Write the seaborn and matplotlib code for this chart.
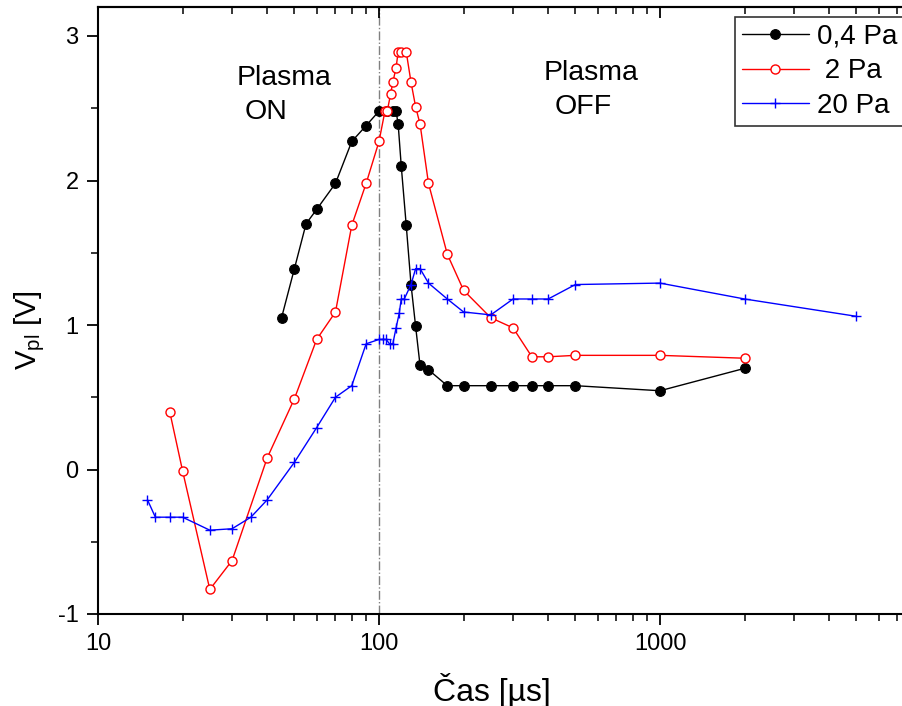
import numpy as np
import pandas as pd
import matplotlib
matplotlib.use("Agg")
import matplotlib.pyplot as plt
from matplotlib.ticker import MultipleLocator, LogLocator, NullFormatter, FixedLocator, FixedFormatter
import seaborn as sns

sns.set_theme(style="white")
plt.rcParams["font.family"] = ["Liberation Sans", "DejaVu Sans"]
plt.rcParams["mathtext.default"] = "regular"
plt.rcParams["axes.unicode_minus"] = False
plt.rcParams["text.color"] = "black"
plt.rcParams["axes.labelcolor"] = "black"
plt.rcParams["xtick.color"] = "black"
plt.rcParams["ytick.color"] = "black"

# 0,4 Pa
t_04 = [45, 50, 55, 60, 70, 80, 90, 100, 107, 112, 115, 117, 120, 125, 130, 135,
        140, 150, 175, 200, 250, 300, 350, 400, 500, 1000, 2000]
v_04 = [1.05, 1.39, 1.70, 1.80, 1.98, 2.27, 2.38, 2.48, 2.48, 2.48, 2.48, 2.39, 2.10,
        1.69, 1.28, 0.99, 0.72, 0.69, 0.58, 0.58, 0.58, 0.58, 0.58, 0.58, 0.58, 0.545, 0.70]

# 2 Pa
t_2 = [18, 20, 25, 30, 40, 50, 60, 70, 80, 90, 100, 105, 107, 110, 112, 115, 117, 120,
       125, 130, 135, 140, 150, 175, 200, 250, 300, 350, 400, 500, 1000, 2000]
v_2 = [0.40, -0.01, -0.83, -0.63, 0.08, 0.49, 0.90, 1.09, 1.69, 1.98, 2.27, 2.48, 2.48,
       2.60, 2.68, 2.78, 2.89, 2.89, 2.89, 2.68, 2.51, 2.39, 1.98, 1.49, 1.24, 1.05,
       0.98, 0.78, 0.78, 0.79, 0.79, 0.77]

# 20 Pa
t_20 = [15, 16, 18, 20, 25, 30, 35, 40, 50, 60, 70, 80, 90, 100, 103, 106, 109, 112,
        115, 118, 120, 123, 130, 135, 140, 150, 175, 200, 250, 300, 350, 400, 500,
        1000, 2000, 5000]
v_20 = [-0.21, -0.33, -0.33, -0.33, -0.42, -0.41, -0.33, -0.21, 0.05, 0.29, 0.50, 0.58,
        0.87, 0.90, 0.90, 0.90, 0.87, 0.87, 0.98, 1.08, 1.18, 1.18, 1.28, 1.39, 1.39,
        1.29, 1.18, 1.09, 1.07, 1.18, 1.18, 1.18, 1.28, 1.29, 1.18, 1.06]

labels = ["0,4 Pa", " 2 Pa", "20 Pa"]
x_ticks = [10, 100, 1000]
x_tick_labels = ["10", "100", "1000"]
y_ticks = [-1, 0, 1, 2, 3]

W, H = 902, 706
fig = plt.figure(figsize=(W / 100, H / 100), dpi=100)
# axes box in pixels: left 98, top 7, bottom 614; right edge runs past the canvas
left, top, bottom = 98, 7, 614
right = 98 + 3 * 281
ax = fig.add_axes([left / W, (H - bottom) / H, (right - left) / W, (bottom - top) / H])

styles = [
    dict(color="black", marker="o", markersize=7, markerfacecolor="black",
         markeredgecolor="black", markeredgewidth=0.8),
    dict(color="red", marker="o", markersize=6.5, markerfacecolor="white",
         markeredgecolor="red", markeredgewidth=1.0),
    dict(color="blue", marker="+", markersize=7, markeredgecolor="blue",
         markeredgewidth=1.0),
]
for (tx, vy), lab, st in zip([(t_04, v_04), (t_2, v_2), (t_20, v_20)], labels, styles):
    df = pd.DataFrame({"t": tx, "v": vy})
    sns.lineplot(data=df, x="t", y="v", ax=ax, estimator=None, sort=False,
                 linewidth=1.0, label=lab, **st)

ax.axvline(100, color="gray", linestyle="-.", linewidth=1.0, zorder=0)

ax.set_xscale("log")
ax.set_xlim(10, 10000)
ax.set_ylim(-1, 3 + 29 / 144.5)

ax.xaxis.set_major_locator(FixedLocator(x_ticks))
ax.xaxis.set_major_formatter(FixedFormatter(x_tick_labels))
ax.xaxis.set_minor_locator(LogLocator(base=10, subs=np.arange(2, 10)))
ax.xaxis.set_minor_formatter(NullFormatter())
ax.yaxis.set_major_locator(FixedLocator(y_ticks))
ax.yaxis.set_minor_locator(MultipleLocator(0.5))

ax.tick_params(axis="both", which="major", direction="out", length=8, width=1.3,
               labelsize=17, colors="black", pad=6)
ax.tick_params(axis="both", which="minor", direction="out", length=5, width=1.1)
ax.tick_params(axis="x", which="both", top=False, bottom=True)
ax.tick_params(axis="y", which="both", left=True, right=False)

# mirrored ticks on the top frame pointing inwards
top_ax = ax.secondary_xaxis("top")
top_ax.xaxis.set_major_locator(FixedLocator(x_ticks))
top_ax.xaxis.set_minor_locator(LogLocator(base=10, subs=np.arange(2, 10)))
top_ax.xaxis.set_minor_formatter(NullFormatter())
top_ax.tick_params(which="major", direction="in", length=8, width=1.3, labeltop=False)
top_ax.tick_params(which="minor", direction="in", length=5, width=1.1)
top_ax.spines["top"].set_linewidth(1.5)

for s in ax.spines.values():
    s.set_color("black")
    s.set_linewidth(1.5)

ax.set_xlabel("")
ax.set_ylabel("")
fig.text(492 / W, 1 - 690 / H, "Čas [µs]", ha="center", va="center", fontsize=23)
fig.text(30 / W, 1 - 330 / H, "$V_{pl}$ [V]", ha="center", va="center",
         rotation=90, fontsize=21)

fig.text(237 / W, 1 - 78 / H, "Plasma", ha="left", va="center", fontsize=20.5)
fig.text(245 / W, 1 - 112 / H, "ON", ha="left", va="center", fontsize=20.5)
fig.text(544 / W, 1 - 73 / H, "Plasma", ha="left", va="center", fontsize=20.5)
fig.text(555 / W, 1 - 107 / H, "OFF", ha="left", va="center", fontsize=20.5)

leg = ax.legend(loc="upper left", bbox_to_anchor=(735 / W, 1 - 17 / H),
                bbox_transform=fig.transFigure, frameon=True, fancybox=False,
                fontsize=20, handlelength=2.4, handletextpad=0.3,
                borderpad=0.25, labelspacing=0.3, borderaxespad=0)
leg.get_frame().set_edgecolor("black")
leg.get_frame().set_linewidth(1.2)

fig.savefig("out.png", dpi=100)
